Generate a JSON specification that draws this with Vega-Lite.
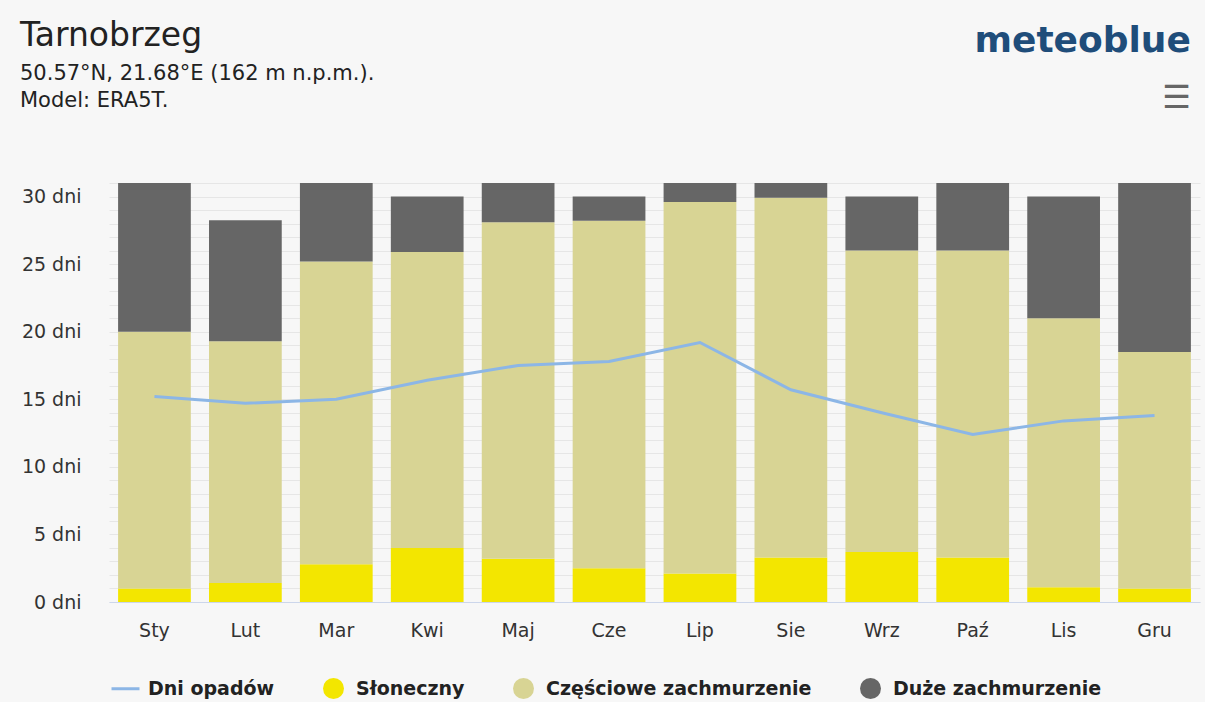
{
  "$schema": "https://vega.github.io/schema/vega-lite/v6.json",
  "autosize": {"type": "none"},
  "width": 1091,
  "height": 419,
  "padding": {"left": 109, "top": 183, "right": 5, "bottom": 100},
  "background": "#f7f7f7",
  "title": {
    "text": "Tarnobrzeg",
    "subtitle": ["50.57°N, 21.68°E (162 m n.p.m.).", "Model: ERA5T."],
    "anchor": "start",
    "frame": "group",
    "dx": -89,
    "offset": -88,
    "font": "DejaVu Sans",
    "fontSize": 33,
    "fontWeight": "normal",
    "color": "#222222",
    "subtitleFont": "DejaVu Sans",
    "subtitleFontSize": 21,
    "subtitleColor": "#222222",
    "subtitlePadding": 10,
    "subtitleLineHeight": 27
  },
  "config": {
    "view": {"stroke": null},
    "font": "DejaVu Sans",
    "axisY": {
      "title": null,
      "labelOverlap": false,
      "labelFont": "DejaVu Sans",
      "labelFontSize": 19,
      "labelColor": "#333333",
      "labelPadding": 28,
      "ticks": false,
      "domain": false,
      "grid": true,
      "gridColor": "#e6e6e6",
      "gridWidth": 1
    }
  },
  "datasets": {
    "bars": [
      {"month": "Sty", "type": "Słoneczny", "o": 1, "days": 1.0},
      {"month": "Sty", "type": "Częściowe zachmurzenie", "o": 2, "days": 19.0},
      {"month": "Sty", "type": "Duże zachmurzenie", "o": 3, "days": 11.0},
      {"month": "Lut", "type": "Słoneczny", "o": 1, "days": 1.4},
      {"month": "Lut", "type": "Częściowe zachmurzenie", "o": 2, "days": 17.9},
      {"month": "Lut", "type": "Duże zachmurzenie", "o": 3, "days": 8.95},
      {"month": "Mar", "type": "Słoneczny", "o": 1, "days": 2.8},
      {"month": "Mar", "type": "Częściowe zachmurzenie", "o": 2, "days": 22.4},
      {"month": "Mar", "type": "Duże zachmurzenie", "o": 3, "days": 5.8},
      {"month": "Kwi", "type": "Słoneczny", "o": 1, "days": 4.0},
      {"month": "Kwi", "type": "Częściowe zachmurzenie", "o": 2, "days": 21.9},
      {"month": "Kwi", "type": "Duże zachmurzenie", "o": 3, "days": 4.1},
      {"month": "Maj", "type": "Słoneczny", "o": 1, "days": 3.2},
      {"month": "Maj", "type": "Częściowe zachmurzenie", "o": 2, "days": 24.9},
      {"month": "Maj", "type": "Duże zachmurzenie", "o": 3, "days": 2.9},
      {"month": "Cze", "type": "Słoneczny", "o": 1, "days": 2.5},
      {"month": "Cze", "type": "Częściowe zachmurzenie", "o": 2, "days": 25.7},
      {"month": "Cze", "type": "Duże zachmurzenie", "o": 3, "days": 1.8},
      {"month": "Lip", "type": "Słoneczny", "o": 1, "days": 2.1},
      {"month": "Lip", "type": "Częściowe zachmurzenie", "o": 2, "days": 27.5},
      {"month": "Lip", "type": "Duże zachmurzenie", "o": 3, "days": 1.4},
      {"month": "Sie", "type": "Słoneczny", "o": 1, "days": 3.3},
      {"month": "Sie", "type": "Częściowe zachmurzenie", "o": 2, "days": 26.6},
      {"month": "Sie", "type": "Duże zachmurzenie", "o": 3, "days": 1.1},
      {"month": "Wrz", "type": "Słoneczny", "o": 1, "days": 3.7},
      {"month": "Wrz", "type": "Częściowe zachmurzenie", "o": 2, "days": 22.3},
      {"month": "Wrz", "type": "Duże zachmurzenie", "o": 3, "days": 4.0},
      {"month": "Paź", "type": "Słoneczny", "o": 1, "days": 3.3},
      {"month": "Paź", "type": "Częściowe zachmurzenie", "o": 2, "days": 22.7},
      {"month": "Paź", "type": "Duże zachmurzenie", "o": 3, "days": 5.0},
      {"month": "Lis", "type": "Słoneczny", "o": 1, "days": 1.1},
      {"month": "Lis", "type": "Częściowe zachmurzenie", "o": 2, "days": 19.9},
      {"month": "Lis", "type": "Duże zachmurzenie", "o": 3, "days": 9.0},
      {"month": "Gru", "type": "Słoneczny", "o": 1, "days": 1.0},
      {"month": "Gru", "type": "Częściowe zachmurzenie", "o": 2, "days": 17.5},
      {"month": "Gru", "type": "Duże zachmurzenie", "o": 3, "days": 12.5}
    ],
    "rain": [
      {"month": "Sty", "days": 15.2},
      {"month": "Lut", "days": 14.7},
      {"month": "Mar", "days": 15.0},
      {"month": "Kwi", "days": 16.4},
      {"month": "Maj", "days": 17.5},
      {"month": "Cze", "days": 17.8},
      {"month": "Lip", "days": 19.2},
      {"month": "Sie", "days": 15.7},
      {"month": "Wrz", "days": 14.0},
      {"month": "Paź", "days": 12.4},
      {"month": "Lis", "days": 13.4},
      {"month": "Gru", "days": 13.8}
    ]
  },
  "encoding": {
    "x": {
      "field": "month",
      "type": "nominal",
      "sort": ["Sty", "Lut", "Mar", "Kwi", "Maj", "Cze", "Lip", "Sie", "Wrz", "Paź", "Lis", "Gru"],
      "scale": {"paddingInner": 0.2, "paddingOuter": 0.1},
      "axis": {
        "title": null,
        "labelAngle": 0,
        "labelFont": "DejaVu Sans",
        "labelFontSize": 19,
        "labelColor": "#333333",
        "ticks": false,
        "labelPadding": 19,
        "domainColor": "#ccd6eb",
        "domainWidth": 1,
        "grid": false
      }
    }
  },
  "layer": [
    {
      "data": {"name": "bars"},
      "mark": {"type": "bar"},
      "encoding": {
        "y": {
          "field": "days",
          "type": "quantitative",
          "stack": "zero",
          "scale": {"domain": [0, 31], "nice": false, "zero": true},
          "axis": {
            "values": [0, 1, 2, 3, 4, 5, 6, 7, 8, 9, 10, 11, 12, 13, 14, 15, 16, 17, 18, 19, 20, 21, 22, 23, 24, 25, 26, 27, 28, 29, 30, 31],
            "labelExpr": "datum.value % 5 === 0 ? datum.value + ' dni' : ''"
          }
        },
        "order": {"field": "o", "type": "quantitative"},
        "color": {
          "field": "type",
          "type": "nominal",
          "scale": {
            "domain": ["Dni opadów", "Słoneczny", "Częściowe zachmurzenie", "Duże zachmurzenie"],
            "range": ["#8cb6e6", "#f3e600", "#d8d494", "#666666"]
          },
          "legend": {
            "orient": "none",
            "legendX": 7,
            "legendY": 496,
            "direction": "horizontal",
            "title": null,
            "labelFont": "DejaVu Sans",
            "labelFontSize": 19,
            "labelFontWeight": "bold",
            "labelColor": "#222222",
            "labelLimit": 500,
            "symbolSize": 784,
            "columnPadding": 48,
            "labelOffset": 13,
            "encode": {
              "symbols": {
                "update": {
                  "shape": {"signal": "datum.value === 'Dni opadów' ? 'stroke' : 'circle'"},
                  "fill": {"signal": "datum.value === 'Dni opadów' ? 'transparent' : scale('color', datum.value)"},
                  "stroke": {"signal": "scale('color', datum.value)"},
                  "strokeWidth": {"signal": "datum.value === 'Dni opadów' ? 3 : 0"},
                  "size": {"signal": "datum.value === 'Dni opadów' ? 784 : 441"},
                  "opacity": {"value": 1}
                }
              }
            }
          }
        }
      }
    },
    {
      "data": {"name": "rain"},
      "mark": {"type": "line", "strokeWidth": 3},
      "encoding": {
        "y": {
          "field": "days",
          "type": "quantitative",
          "axis": {
            "values": [0, 1, 2, 3, 4, 5, 6, 7, 8, 9, 10, 11, 12, 13, 14, 15, 16, 17, 18, 19, 20, 21, 22, 23, 24, 25, 26, 27, 28, 29, 30, 31],
            "labelExpr": "datum.value % 5 === 0 ? datum.value + ' dni' : ''"
          }
        },
        "color": {"datum": "Dni opadów", "type": "nominal"}
      }
    },
    {
      "data": {"values": [{}]},
      "mark": {"type": "text", "text": "meteoblue", "align": "right", "baseline": "alphabetic", "font": "DejaVu Sans", "fontSize": 36, "fontWeight": "bold", "color": "#1f4d7a"},
      "encoding": {
        "x": {"datum": "Gru", "type": "nominal", "bandPosition": 1},
        "y": {
          "datum": 40.67,
          "type": "quantitative",
          "axis": {
            "values": [0, 1, 2, 3, 4, 5, 6, 7, 8, 9, 10, 11, 12, 13, 14, 15, 16, 17, 18, 19, 20, 21, 22, 23, 24, 25, 26, 27, 28, 29, 30, 31],
            "labelExpr": "datum.value % 5 === 0 ? datum.value + ' dni' : ''"
          }
        }
      }
    },
    {
      "data": {"values": [{}]},
      "mark": {"type": "text", "text": "☰", "align": "right", "baseline": "middle", "font": "DejaVu Sans", "fontSize": 32, "fontWeight": "bold", "color": "#666666"},
      "encoding": {
        "x": {"datum": "Gru", "type": "nominal", "bandPosition": 1},
        "y": {
          "datum": 37.27,
          "type": "quantitative",
          "axis": {
            "values": [0, 1, 2, 3, 4, 5, 6, 7, 8, 9, 10, 11, 12, 13, 14, 15, 16, 17, 18, 19, 20, 21, 22, 23, 24, 25, 26, 27, 28, 29, 30, 31],
            "labelExpr": "datum.value % 5 === 0 ? datum.value + ' dni' : ''"
          }
        }
      }
    }
  ]
}
